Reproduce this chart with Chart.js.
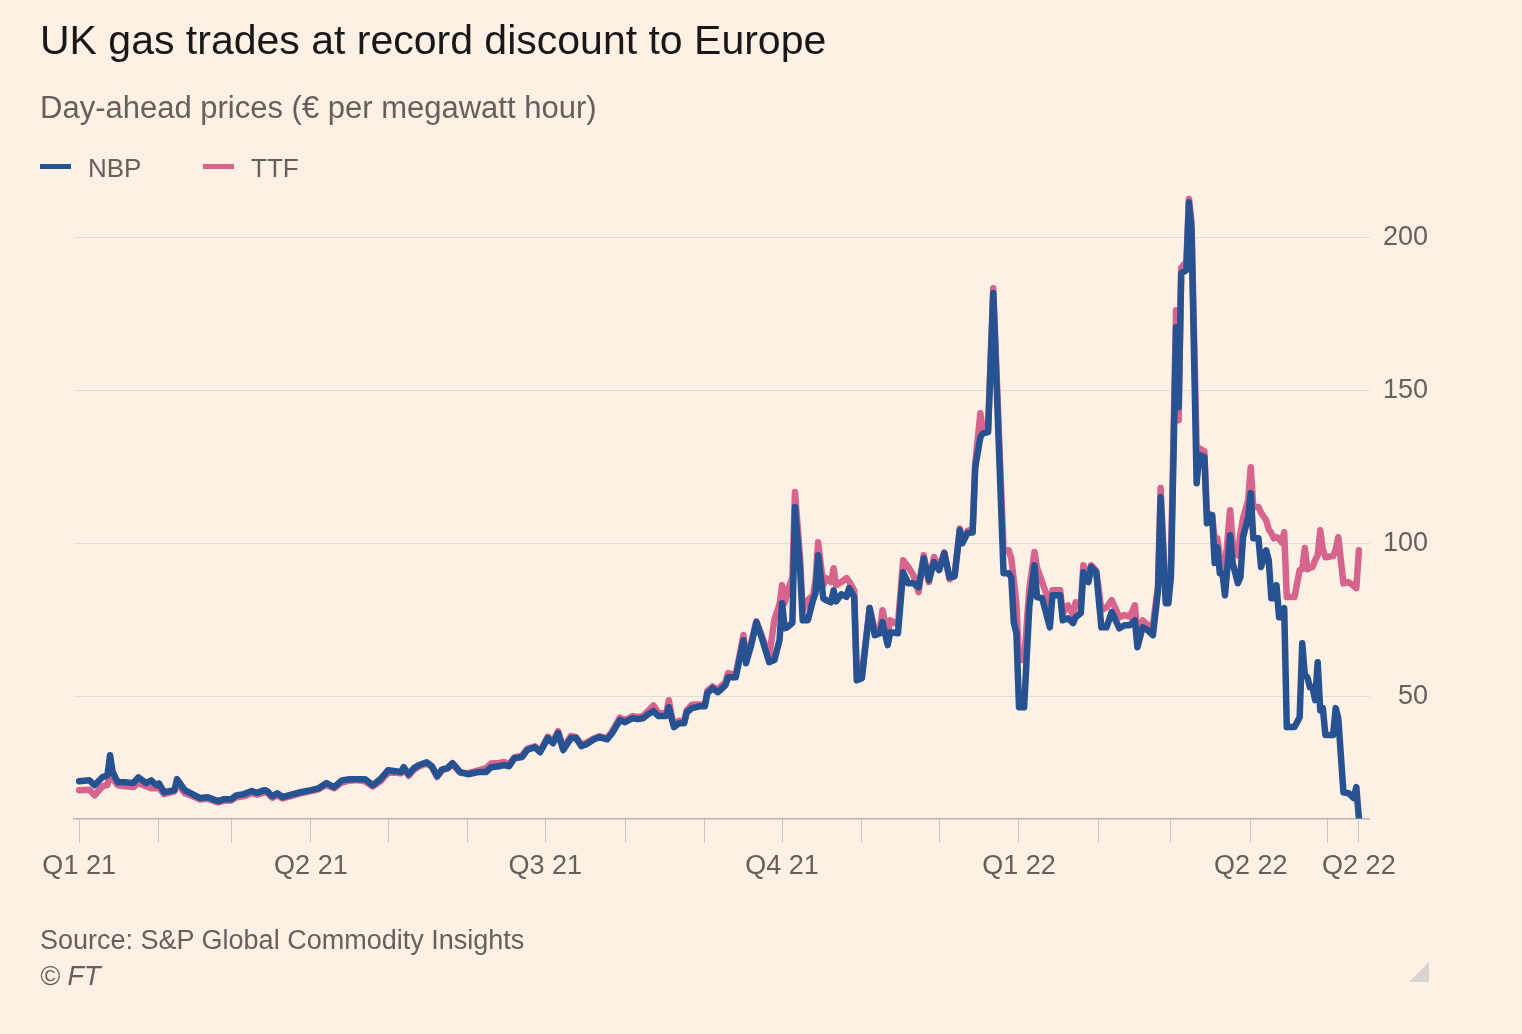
<!DOCTYPE html>
<html>
<head>
<meta charset="utf-8">
<script src="https://cdn.jsdelivr.net/npm/chart.js@4.4.0/dist/chart.umd.min.js"></script>
<style>
  html, body { margin: 0; padding: 0; }
  body { width: 1522px; height: 1034px; background: #fdf1e6; position: relative; overflow: hidden;
         font-family: "Liberation Sans", Arial, sans-serif; }
  #c { position: absolute; left: 0; top: 0; }
  .t { position: absolute; white-space: nowrap; line-height: 1; }
  #title { left: 40px; top: 20px; font-size: 41px; color: #1a1817; }
  #sub { left: 40px; top: 92px; font-size: 31px; color: #66605c; }
  .leg { position: absolute; height: 5px; width: 31px; top: 164px; }
  .legt { top: 155px; font-size: 26px; color: #66605c; }
  #src { left: 40px; top: 927px; font-size: 27px; color: #66605c; }
  #ft { left: 40px; top: 963px; font-size: 27px; color: #66605c; font-style: italic; }
  #tri { position: absolute; left: 1409px; top: 962px; width: 0; height: 0;
         border-left: 20px solid transparent; border-bottom: 20px solid #d8d4cf; }
</style>
</head>
<body>
<canvas id="c" width="1522" height="1034"></canvas>
<div class="t" id="title">UK gas trades at record discount to Europe</div>
<div class="t" id="sub">Day-ahead prices (€ per megawatt hour)</div>
<div class="leg" style="left:40px;background:#265292"></div>
<div class="t legt" style="left:88px">NBP</div>
<div class="leg" style="left:203px;background:#d6648c"></div>
<div class="t legt" style="left:251px">TTF</div>
<div class="t" id="src">Source: S&amp;P Global Commodity Insights</div>
<div class="t" id="ft">© FT</div>
<div id="tri"></div>
<script>
// Days since 1 January 2021
const days = [0,4,6,9,11,12,13,15,18,21,23,26,28,30,31,33,37,38,41,44,47,50,52,54,56,59,61,64,67,69,72,73,75,77,79,83,86,90,93,96,99,102,105,108,111,114,117,120,123,125,126,128,130,132,135,137,139,141,143,145,148,151,155,158,160,163,165,167,169,172,174,177,179,182,184,186,188,191,193,195,197,200,202,205,207,210,212,215,217,219,221,223,225,228,229,230,231,233,235,236,238,241,243,244,246,248,249,251,252,255,258,259,261,263,265,268,270,272,273,274,275,277,278,280,281,283,285,286,287,289,290,292,293,294,296,298,299,301,302,304,307,309,311,312,314,315,318,320,322,324,326,328,330,332,334,336,338,340,342,343,345,347,348,350,351,353,355,359,361,362,363,364,365,367,369,371,372,374,377,378,381,382,384,386,387,389,390,392,393,395,397,399,401,404,406,408,410,411,413,415,417,419,420,422,423,424,425,426,427,428,430,431,432,434,435,437,438,440,441,442,443,444,445,447,448,450,451,452,454,455,456,458,459,461,462,463,464,465,466,467,468,469,472,474,475,476,477,478,479,480,481,482,483,484,487,488,489,491,493,495,496,497];
// NBP (UK) day-ahead, EUR/MWh
const nbp = [22.2,22.5,20.9,23.5,24.2,30.7,25.2,21.9,21.9,21.6,23.5,21.6,22.5,20.9,21.5,18.6,19.3,22.9,19.3,18.0,16.7,17.0,16.3,15.7,16.3,16.3,17.6,18.0,19.0,18.4,19.3,19.0,17.3,18.3,17.0,18.0,18.6,19.3,19.9,21.6,20.3,22.5,22.9,22.9,22.9,20.9,22.9,25.8,25.5,25.2,26.8,24.5,26.5,27.5,28.4,27.1,23.9,26.1,26.5,28.1,25.2,24.5,25.2,25.2,26.8,27.1,27.5,27.1,29.7,30.1,32.4,33.3,31.7,36.3,34.6,37.9,32.4,36.3,36.3,33.7,34.3,35.9,36.6,35.9,37.9,42.2,41.5,42.8,42.5,42.8,44.1,45.1,43.5,43.5,46.4,43.1,39.9,41.2,41.2,44.8,46.1,46.7,46.7,51.0,52.6,51.3,52.0,53.6,56.2,56.2,68.3,60.8,66.7,74.2,69.3,61.1,61.8,68.3,80.4,72.2,72.5,74.0,111.8,91.2,74.8,74.8,81.4,83.7,96.1,82.0,81.4,80.7,84.6,81.0,83.3,82.5,85.3,82.4,55.2,55.9,78.8,69.9,70.6,74.2,66.7,70.9,70.6,90.5,86.9,86.9,85.6,95.1,87.9,93.8,91.2,96.7,88.9,89.2,104.2,100.0,103.3,103.5,124.8,134.6,135.9,136.3,181.7,90.2,90.2,88.9,73.9,70.6,46.4,46.4,79.1,92.8,82.4,82.0,72.5,83.0,83.0,74.8,75.5,73.9,75.8,77.1,90.5,87.3,92.2,90.5,72.5,72.5,77.5,72.2,73.2,73.2,74.8,66.0,72.5,71.6,69.9,84.6,115.0,80.4,80.4,88.9,128.1,170.6,144.4,188.2,189.2,211.4,202.3,119.6,128.8,128.1,106.5,109.2,93.5,98.7,90.2,90.2,83.0,102.6,93.5,86.9,88.9,101.9,108.5,116.3,101.6,101.6,92.2,97.7,94.4,82.0,82.0,86.3,75.8,75.8,78.8,39.9,39.9,43.1,67.3,56.9,56.2,52.9,52.9,48.7,61.1,45.4,46.1,37.3,37.3,46.1,42.8,18.6,18.3,16.7,20.3,10.1];
// TTF (Netherlands) day-ahead, EUR/MWh
const ttf = [19.3,19.4,17.6,20.5,21.0,25.8,23.0,20.9,20.6,20.3,21.6,20.6,19.9,19.9,20.0,18.0,18.9,21.6,18.3,17.4,16.2,16.5,15.8,15.3,15.8,15.9,17.0,17.3,18.3,17.8,18.6,18.5,16.8,17.6,16.6,17.5,18.3,19.0,19.6,21.0,19.9,21.8,22.4,22.6,22.2,20.5,22.2,25.0,25.0,24.8,26.3,24.0,26.0,27.0,28.0,26.8,23.6,25.8,26.3,27.8,25.0,24.8,25.8,26.5,28.0,28.2,28.5,27.8,30.0,30.6,32.8,33.6,32.0,36.8,35.2,38.6,33.2,37.0,36.6,34.2,34.8,36.2,36.9,36.3,38.5,43.0,42.2,43.5,43.2,43.5,45.2,47.0,44.5,44.2,48.7,44.0,40.5,42.0,41.8,45.5,47.2,47.3,47.2,51.8,53.2,52.0,53.0,54.5,57.5,57.0,70.0,62.0,67.5,74.5,70.0,63.0,75.0,80.0,86.3,80.4,83.7,89.0,116.7,95.0,78.0,81.4,83.0,88.0,100.3,86.3,88.6,87.3,91.8,86.3,87.3,88.6,87.5,84.6,58.5,57.5,78.8,71.6,72.0,78.1,70.0,74.8,73.5,94.4,92.2,89.5,84.0,96.1,87.3,95.5,92.0,97.0,88.2,89.5,104.8,101.0,104.0,104.5,126.0,142.5,137.0,137.5,183.3,97.7,97.7,95.0,87.9,80.0,61.8,61.8,85.0,97.1,92.0,87.3,80.0,84.6,84.6,77.0,79.7,76.5,80.7,80.0,92.8,88.5,92.8,91.0,78.1,79.0,81.4,75.8,76.5,76.0,79.7,70.0,74.8,73.2,73.2,86.0,118.0,82.0,82.5,92.0,135.0,176.1,140.2,190.0,192.0,212.5,205.0,131.0,131.0,130.0,110.0,109.0,101.6,101.6,96.0,95.0,92.0,110.8,100.0,96.0,103.3,108.0,114.0,124.8,111.8,111.8,110.0,107.5,104.5,103.3,101.6,102.0,101.5,100.3,103.6,82.4,82.4,91.2,91.5,98.4,91.5,92.0,92.2,94.4,96.0,104.2,98.0,95.4,95.8,98.0,102.0,86.9,87.3,86.0,85.3,97.7];

// x-axis: month starts (days since 1 Jan 2021) and their labels
const tickDays   = [0, 31, 59, 90, 120, 151, 181, 212, 243, 273, 304, 334, 365, 396, 424, 455, 485, 497];
const tickLabels = ['Q1 21','','','Q2 21','','','Q3 21','','','Q4 21','','','Q1 22','','','Q2 22','','Q2 22'];
const yTicks = [50, 100, 150, 200];

const FONT = '"Liberation Sans", Arial, sans-serif';
const toXY = vals => days.map((d, i) => ({ x: d, y: vals[i] }));

new Chart(document.getElementById('c'), {
  type: 'line',
  data: {
    datasets: [
      { label: 'NBP', data: toXY(nbp), borderColor: '#265292', borderWidth: 6.5, pointRadius: 0,
        tension: 0, borderJoinStyle: 'round', borderCapStyle: 'round', order: 0 },
      { label: 'TTF', data: toXY(ttf), borderColor: '#d6648c', borderWidth: 6.5, pointRadius: 0,
        tension: 0, borderJoinStyle: 'round', borderCapStyle: 'round', order: 1 }
    ]
  },
  options: {
    responsive: false,
    animation: false,
    devicePixelRatio: 1,
    layout: { padding: { left: 74, right: 94, top: 176, bottom: 143 } },
    plugins: { legend: { display: false }, tooltip: { enabled: false } },
    scales: {
      x: {
        type: 'linear', min: -2, max: 501.3,
        afterBuildTicks: axis => { axis.ticks = tickDays.map(v => ({ value: v })); },
        ticks: {
          autoSkip: false, maxRotation: 0, padding: 8, color: '#66605c',
          font: { family: FONT, size: 27 },
          callback: (v, i) => tickLabels[i]
        },
        grid: { drawOnChartArea: false, drawTicks: true, tickLength: 24, color: '#cdc8c3', lineWidth: 1 },
        border: { display: true, color: '#b9b4af', width: 1.5 }
      },
      y: {
        type: 'linear', position: 'right', min: 10, max: 220,
        afterBuildTicks: axis => { axis.ticks = yTicks.map(v => ({ value: v })); },
        ticks: { color: '#66605c', padding: 6.5, crossAlign: 'far', font: { family: FONT, size: 27 } },
        grid: { drawTicks: false, color: '#e3ddd7', lineWidth: 1 },
        border: { display: false }
      }
    }
  }
});
</script>
</body>
</html>
